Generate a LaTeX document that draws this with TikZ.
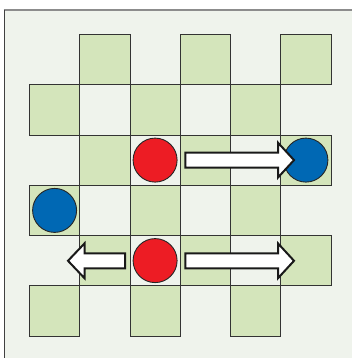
\documentclass[tikz,border=0pt]{standalone}
\usepackage{xcolor}
\definecolor{board}{HTML}{EFF3EC}
\definecolor{square}{HTML}{D4E5BB}
\definecolor{redpiece}{HTML}{ED1C24}
\definecolor{bluepiece}{HTML}{0068B4}

\begin{document}
\begin{tikzpicture}[x=1pt,y=-1pt,
    cell/.style={fill=square,draw=black!80,line width=0.9pt},
    piece/.style={circle,draw=black!85,line width=0.9pt,minimum size=44pt,inner sep=0pt},
    move/.style={fill=white,draw=black!90,line width=2pt,line join=miter}]
        \useasboundingbox (0,0) rectangle (352,358);
        \fill[board] (4.5,10) rectangle (352,358);
        \draw[black!45,line width=2pt] (3.5,10) -- (352,10);
        \draw[black!75,line width=1pt] (4.5,10) -- (4.5,358);
        % green squares of the board
        \foreach \r in {0,...,5}
            \foreach \c in {0,...,5}{
                \pgfmathparse{int(mod(\r+\c,2))}
                \ifnum\pgfmathresult=1
                    \draw[cell] (29.5+50.25*\c,34.5+50.25*\r) rectangle ++(50.25,50.25);
                \fi
            }
        % pieces
        \node[piece,fill=redpiece] (red1) at (155.1,160.1) {};
        \node[piece,fill=redpiece] (red2) at (155.1,260.6) {};
        \node[piece,fill=bluepiece] (blue1) at (305.9,160.1) {};
        \node[piece,fill=bluepiece] (blue2) at (54.6,210.4) {};
        % moves
        \draw[move] (185.3,152.6) -- (278,152.6) -- (278,142.7)
            -- (294,160.1) -- (278,177.5) -- (278,167.6) -- (185.3,167.6) -- cycle;
        \draw[move] (185.3,253.3) -- (278,253.3) -- (278,243.4)
            -- (294,260.8) -- (278,278.2) -- (278,268.3) -- (185.3,268.3) -- cycle;
        \draw[move] (125,253.3) -- (84.5,253.3) -- (84.5,243.4)
            -- (68,260.8) -- (84.5,278.2) -- (84.5,268.3) -- (125,268.3) -- cycle;
\end{tikzpicture}
\end{document}
